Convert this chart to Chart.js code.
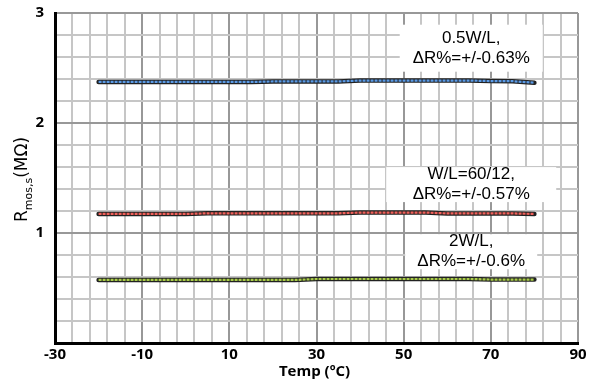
<!DOCTYPE html>
<html>
<head>
<meta charset="utf-8">
<script src="https://cdn.jsdelivr.net/npm/chart.js@4/dist/chart.umd.min.js"></script>
<style>
  html, body { margin: 0; padding: 0; background: #fff; }
  #wrap { width: 589px; height: 385px; }
</style>
</head>
<body>
<div id="wrap"><canvas id="rChart"></canvas></div>
<script>
// temperature sweep (degC)
const temps = [-20, -15, -10, -5, 0, 5, 10, 15, 20, 25, 30, 35, 40, 45, 50, 55, 60, 65, 70, 75, 80];

// R_mos,s in MOhm
const halfWL = [2.373, 2.373, 2.373, 2.373, 2.373, 2.373, 2.373, 2.373, 2.378, 2.378, 2.378,
                2.378, 2.386, 2.386, 2.386, 2.386, 2.386, 2.386, 2.381, 2.380, 2.366];
const baseWL = [1.173, 1.173, 1.173, 1.173, 1.173, 1.179, 1.179, 1.179, 1.179, 1.179, 1.179,
                1.179, 1.186, 1.186, 1.186, 1.186, 1.178, 1.178, 1.178, 1.178, 1.173];
const twoWL  = [0.573, 0.573, 0.573, 0.573, 0.573, 0.573, 0.573, 0.573, 0.573, 0.573, 0.582,
                0.582, 0.582, 0.582, 0.582, 0.582, 0.582, 0.582, 0.577, 0.577, 0.577];

const xTickLabels = ['-30', '-10', '10', '30', '50', '70', '90'];
const yTickLabels = ['1', '2', '3'];

const noteTexts = [
    ['0.5W/L,', '\u0394R%=+/-0.63%'],
    ['W/L=60/12,', '\u0394R%=+/-0.57%'],
    ['2W/L,', '\u0394R%=+/-0.6%']
];

// where the note boxes sit (data coords for centre, px for box size)
const noteBoxes = [
    { x: 65.5, y: 2.68, w: 143, h: 47 },
    { x: 65.5, y: 1.44, w: 170, h: 35 },
    { x: 65.5, y: 0.83, w: 132, h: 35 }
];

const series = [
    { data: halfWL, color: '#5a9ae6' },
    { data: baseWL, color: '#f2605a' },
    { data: twoWL,  color: '#a9cc48' }
];

function pts(vals) {
    return temps.map((t, i) => ({ x: t, y: vals[i] }));
}

const datasets = [];
series.forEach(s => {
    // dark outline underneath
    datasets.push({
        data: pts(s.data),
        borderColor: '#222222',
        borderWidth: 4.5,
        borderCapStyle: 'round',
        pointRadius: 0,
        tension: 0,
        fill: false,
        order: 2
    });
    // coloured dashes on top
    datasets.push({
        data: pts(s.data),
        borderColor: s.color,
        borderWidth: 2.2,
        borderDash: [3, 1],
        pointRadius: 0,
        tension: 0,
        fill: false,
        order: 1
    });
});

const isInt = v => Math.abs(v - Math.round(v)) < 1e-6;

const extrasPlugin = {
    id: 'extras',
    afterDatasetsDraw(chart) {
        const ctx = chart.ctx;
        const xs = chart.scales.x;
        const ys = chart.scales.y;
        ctx.save();
        ctx.font = '17px "Liberation Sans", Arial, sans-serif';
        ctx.textAlign = 'center';
        ctx.textBaseline = 'middle';
        noteBoxes.forEach((b, i) => {
            const cx = xs.getPixelForValue(b.x);
            const cy = ys.getPixelForValue(b.y);
            ctx.fillStyle = '#ffffff';
            ctx.fillRect(cx - b.w / 2, cy - b.h / 2, b.w, b.h);
            ctx.fillStyle = '#000000';
            const lines = noteTexts[i];
            const lh = 20;
            lines.forEach((ln, j) => {
                ctx.fillText(ln, cx, cy + (j - (lines.length - 1) / 2) * lh);
            });
        });
        ctx.restore();
    },
    afterDraw(chart) {
        const ctx = chart.ctx;
        const area = chart.chartArea;
        ctx.save();
        // x axis title
        ctx.fillStyle = '#000';
        ctx.font = 'bold 15px "Open Sans", sans-serif';
        ctx.textAlign = 'center';
        ctx.textBaseline = 'middle';
        ctx.fillText('Temp (\u00baC)', (area.left + area.right) / 2 - 2, 372);

        // y axis title with subscript
        ctx.translate(27, 222);
        ctx.rotate(-Math.PI / 2);
        ctx.textAlign = 'left';
        ctx.textBaseline = 'alphabetic';
        ctx.font = '17px "DejaVu Sans", sans-serif';
        ctx.fillText('R', 0, 0);
        let off = ctx.measureText('R').width;
        ctx.font = '11px "DejaVu Sans", sans-serif';
        ctx.fillText('mos,s', off, 5);
        off += ctx.measureText('mos,s').width;
        ctx.font = '17px "DejaVu Sans", sans-serif';
        ctx.fillText('(M\u03a9)', off, 0);
        ctx.restore();
    }
};

function noScalePadding(s) {
    s.paddingTop = 0;
    s.paddingBottom = 0;
    s.paddingLeft = 0;
    s.paddingRight = 0;
}

const chart = new Chart(document.getElementById('rChart'), {
    type: 'line',
    data: { datasets: datasets },
    options: {
        responsive: true,
        maintainAspectRatio: false,
        animation: false,
        layout: { padding: { top: 13, right: 11, left: 0, bottom: 0 } },
        plugins: {
            legend: { display: false },
            tooltip: { enabled: false }
        },
        scales: {
            x: {
                type: 'linear',
                min: -30,
                max: 90,
                afterFit: s => { s.height = 42; noScalePadding(s); },
                afterBuildTicks: s => {
                    const t = [];
                    for (let v = -30; v <= 90; v += 4) t.push({ value: v });
                    s.ticks = t;
                },
                ticks: {
                    autoSkip: false,
                    maxRotation: 0,
                    padding: 3,
                    color: '#000',
                    font: { family: '"Open Sans", sans-serif', size: 15, weight: 'bold' },
                    callback: v => {
                        const k = xTickLabels.indexOf(String(v));
                        return k >= 0 ? xTickLabels[k] : '';
                    }
                },
                grid: {
                    drawTicks: false,
                    lineWidth: 2,
                    color: c => ((c.tick.value + 30) % 20 === 0 ? '#989898' : '#c6c6c6')
                },
                border: { display: true, color: '#000', width: 3 }
            },
            y: {
                min: 0,
                max: 3,
                afterFit: s => { s.width = 55; noScalePadding(s); },
                afterBuildTicks: s => {
                    const t = [];
                    for (let k = 0; k <= 15; k++) t.push({ value: Math.round(k * 0.2 * 10) / 10 });
                    s.ticks = t;
                },
                ticks: {
                    autoSkip: false,
                    padding: 11,
                    color: '#000',
                    font: { family: '"Open Sans", sans-serif', size: 15, weight: 'bold' },
                    callback: v => {
                        const k = yTickLabels.indexOf(String(v));
                        return k >= 0 ? yTickLabels[k] : '';
                    }
                },
                grid: {
                    drawTicks: false,
                    lineWidth: 2,
                    color: c => (isInt(c.tick.value) ? '#989898' : '#c6c6c6')
                },
                border: { display: true, color: '#000', width: 3 }
            }
        }
    },
    plugins: [extrasPlugin]
});
</script>
</body>
</html>
